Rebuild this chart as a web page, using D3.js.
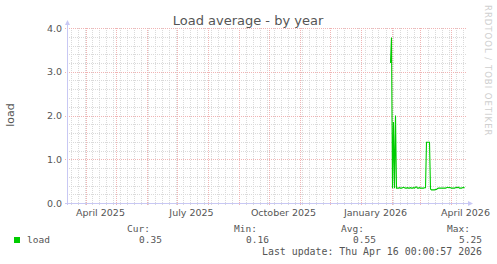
<!DOCTYPE html>
<html>
<head>
<meta charset="utf-8">
<script src="https://cdn.jsdelivr.net/npm/d3@7"></script>
<style>
  body { margin: 0; background: #fff; }
  svg { display: block; font-family: "DejaVu Sans", sans-serif; }
</style>
</head>
<body>
<svg id="chart" width="497" height="264"></svg>
<script>
const title = "Load average - by year";
const yLabel = "load";
const watermark = "RRDTOOL / TOBI OETIKER";

const dates = [
  "2026-01-31", "2026-02-01", "2026-02-02", "2026-02-03", "2026-02-04", "2026-02-05",
  "2026-02-06", "2026-02-07", "2026-02-08", "2026-02-09", "2026-02-10", "2026-02-11",
  "2026-02-12", "2026-02-13", "2026-02-14", "2026-02-15", "2026-02-16", "2026-02-17",
  "2026-02-18", "2026-02-19", "2026-02-20", "2026-02-21", "2026-02-22", "2026-02-23",
  "2026-02-24", "2026-02-25", "2026-02-26", "2026-02-27", "2026-02-28", "2026-03-01",
  "2026-03-02", "2026-03-03", "2026-03-04", "2026-03-05", "2026-03-06", "2026-03-07",
  "2026-03-08", "2026-03-09", "2026-03-10", "2026-03-11", "2026-03-12", "2026-03-13",
  "2026-03-14", "2026-03-15", "2026-03-16", "2026-03-17", "2026-03-18", "2026-03-19",
  "2026-03-20", "2026-03-21", "2026-03-22", "2026-03-23", "2026-03-24", "2026-03-25",
  "2026-03-26", "2026-03-27", "2026-03-28", "2026-03-29", "2026-03-30", "2026-03-31",
  "2026-04-01", "2026-04-02", "2026-04-03", "2026-04-04", "2026-04-05", "2026-04-06",
  "2026-04-07", "2026-04-08", "2026-04-09", "2026-04-10", "2026-04-11", "2026-04-12",
  "2026-04-13", "2026-04-14", "2026-04-15"
];
const loadValues = [
  3.2, 3.78, 0.34, 1.85, 0.34, 2.0,
  0.34, 0.34, 0.34, 0.35, 0.34, 0.34,
  0.35, 0.36, 0.35, 0.34, 0.34, 0.35,
  0.34, 0.34, 0.35, 0.34, 0.34, 0.35,
  0.34, 0.36, 0.37, 0.34, 0.34, 0.35,
  0.34, 0.34, 0.34, 0.34, 0.35, 0.35,
  1.39, 1.39, 1.39, 1.39, 0.32, 0.30,
  0.30, 0.30, 0.30, 0.31, 0.31, 0.33,
  0.34, 0.34, 0.34, 0.34, 0.34, 0.34,
  0.34, 0.34, 0.35, 0.36, 0.35, 0.36,
  0.35, 0.34, 0.34, 0.34, 0.34, 0.35,
  0.36, 0.35, 0.36, 0.34, 0.34, 0.34,
  0.35, 0.36, 0.34
];

const yTicks = [0, 1, 2, 3, 4];
const monthLabels = ["2025-04-01", "2025-07-01", "2025-10-01", "2026-01-01", "2026-04-01"];

const legendName = "load";
const legendHeads = ["Cur:", "Min:", "Avg:", "Max:"];
const legendValues = ["0.35", "0.16", "0.55", "5.25"];
const lastUpdate = "Last update: Thu Apr 16 00:00:57 2026";

const parseDay = d3.utcParse("%Y-%m-%d");
const DAY = 24 * 3600 * 1000;

const plotLeft = 67, plotRight = 467, plotTop = 28, plotBottom = 203;
const end = parseDay("2026-04-16");
const start = new Date(end.getTime() - 400 * DAY);

const x = d3.scaleUtc().domain([start, end]).range([plotLeft - 1.5, plotRight - 1.5]);
const y = d3.scaleLinear().domain([0, 4]).range([plotBottom, plotTop]);

const svg = d3.select("#chart");
const textColor = "#555";
const axisColor = "#c8c8f4";
const green = "#00cc00";
const majorColor = "#f0b4b4";
const minorColor = "#dadada";

svg.append("rect").attr("width", 497).attr("height", 264).attr("fill", "#fff");

// grid
const grid = svg.append("g");
const px = (v) => Math.round(v) + 0.5;

const weeks = d3.utcMonday.range(start, end);
const months = d3.utcMonth.range(start, end);
const monthSet = new Set(months.map((d) => Math.round(x(d))));

grid.selectAll("line.vminor")
  .data(weeks.filter((d) => !monthSet.has(Math.round(x(d)))))
  .join("line")
  .attr("x1", (d) => px(x(d))).attr("x2", (d) => px(x(d)))
  .attr("y1", plotTop).attr("y2", plotBottom + 2)
  .attr("stroke", minorColor).attr("stroke-dasharray", "1,1");

const minorY = d3.range(1, 20).map((i) => i * 0.2).filter((v) => Math.abs(v - Math.round(v)) > 0.01);
grid.selectAll("line.hminor")
  .data(minorY)
  .join("line")
  .attr("x1", plotLeft).attr("x2", plotRight)
  .attr("y1", (d) => px(y(d))).attr("y2", (d) => px(y(d)))
  .attr("stroke", minorColor).attr("stroke-dasharray", "1,1");

grid.selectAll("line.vmajor")
  .data(months)
  .join("line")
  .attr("x1", (d) => px(x(d))).attr("x2", (d) => px(x(d)))
  .attr("y1", plotTop).attr("y2", plotBottom + 3)
  .attr("stroke", majorColor).attr("stroke-dasharray", "1,1");

grid.selectAll("line.hmajor")
  .data(yTicks.filter((d) => d > 0))
  .join("line")
  .attr("x1", plotLeft - 2).attr("x2", plotRight)
  .attr("y1", (d) => px(y(d))).attr("y2", (d) => px(y(d)))
  .attr("stroke", majorColor).attr("stroke-dasharray", "1,1");

// axes
svg.append("line")
  .attr("x1", plotLeft + 0.5).attr("x2", plotLeft + 0.5)
  .attr("y1", plotBottom + 2).attr("y2", plotTop - 4)
  .attr("stroke", axisColor);
svg.append("path")
  .attr("d", `M${plotLeft - 2},${plotTop - 3}L${plotLeft + 3},${plotTop - 3}L${plotLeft + 0.5},${plotTop - 8}Z`)
  .attr("fill", axisColor);
svg.append("line")
  .attr("x1", plotLeft - 2).attr("x2", plotRight + 2)
  .attr("y1", plotBottom + 0.5).attr("y2", plotBottom + 0.5)
  .attr("stroke", axisColor);
svg.append("path")
  .attr("d", `M${plotRight + 1},${plotBottom - 2}L${plotRight + 1},${plotBottom + 3}L${plotRight + 6},${plotBottom + 0.5}Z`)
  .attr("fill", axisColor);

// tick labels
svg.append("g")
  .selectAll("text")
  .data(yTicks)
  .join("text")
  .attr("x", plotLeft - 5)
  .attr("y", (d) => y(d) + 3.5)
  .attr("text-anchor", "end")
  .attr("font-size", 9.5)
  .attr("fill", textColor)
  .text((d) => d3.format(".1f")(d));

const monthFmt = d3.utcFormat("%B %Y");
svg.append("g")
  .selectAll("text")
  .data(monthLabels.map(parseDay))
  .join("text")
  .attr("x", (d) => x(d3.utcDay.offset(d, 15)))
  .attr("y", 215.5)
  .attr("text-anchor", "middle")
  .attr("font-size", 9.5)
  .attr("fill", textColor)
  .text((d) => monthFmt(d));

// the load line
const line = d3.line()
  .x((d) => x(d.date))
  .y((d) => y(d.value));

const series = dates.map((d, i) => ({ date: parseDay(d), value: loadValues[i] }));
svg.append("path")
  .datum(series)
  .attr("d", line)
  .attr("fill", "none")
  .attr("stroke", green)
  .attr("stroke-width", 1.1);

// title, axis label, watermark
svg.append("text")
  .attr("x", 248).attr("y", 25)
  .attr("text-anchor", "middle")
  .attr("font-size", 13)
  .attr("fill", textColor)
  .text(title);

svg.append("text")
  .attr("transform", "translate(14,115) rotate(-90)")
  .attr("text-anchor", "middle")
  .attr("font-size", 11)
  .attr("fill", textColor)
  .text(yLabel);

svg.append("text")
  .attr("transform", "translate(485,5) rotate(90)")
  .attr("font-size", 8.5)
  .attr("letter-spacing", 1)
  .attr("fill", "#cfcfcf")
  .text(watermark);

// legend
const mono = "DejaVu Sans Mono, monospace";
svg.append("rect")
  .attr("x", 14).attr("y", 237).attr("width", 6).attr("height", 6)
  .attr("fill", green);
svg.append("text")
  .attr("x", 27).attr("y", 243)
  .attr("font-family", mono).attr("font-size", 9.5)
  .attr("fill", textColor)
  .text(legendName);

const colEnds = [162, 269, 376, 482];
svg.append("g")
  .selectAll("text")
  .data(legendHeads)
  .join("text")
  .attr("x", (d, i) => colEnds[i] - 12)
  .attr("y", 231.5)
  .attr("text-anchor", "end")
  .attr("font-family", mono).attr("font-size", 9.5)
  .attr("fill", textColor)
  .text((d) => d);

svg.append("g")
  .selectAll("text")
  .data(legendValues)
  .join("text")
  .attr("x", (d, i) => colEnds[i])
  .attr("y", 243)
  .attr("text-anchor", "end")
  .attr("font-family", mono).attr("font-size", 9.5)
  .attr("fill", textColor)
  .text((d) => d);

svg.append("text")
  .attr("x", 482).attr("y", 255)
  .attr("text-anchor", "end")
  .attr("font-family", mono).attr("font-size", 9.9)
  .attr("fill", textColor)
  .text(lastUpdate);
</script>
</body>
</html>
